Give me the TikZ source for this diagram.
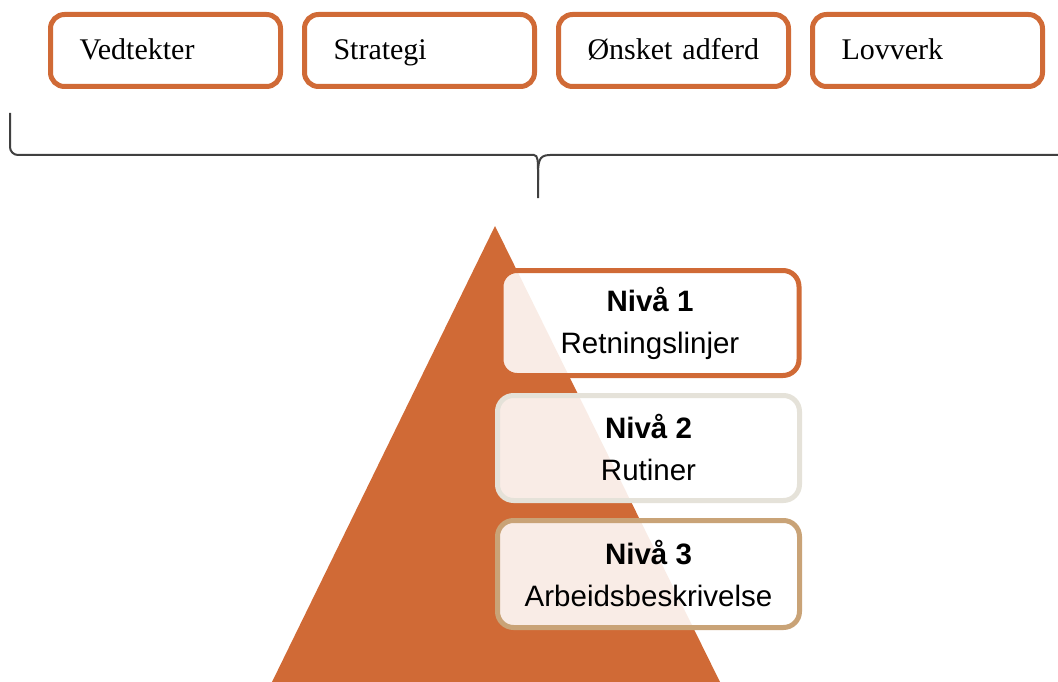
\documentclass[tikz,border=0pt]{standalone}
\usepackage{fontspec}
\setmainfont{Liberation Serif}
\newfontfamily\arialfont{Liberation Sans}
\usetikzlibrary{positioning}
\definecolor{rust}{HTML}{D06A36}
\definecolor{stone}{HTML}{E5E2D9}
\definecolor{sand}{HTML}{C9A377}
\definecolor{brace}{HTML}{404040}
\tikzset{
  topbox/.style={draw=rust, line width=5pt, rounded corners=14pt, fill=white,
    minimum width=230pt, minimum height=72pt, text width=172pt, align=left,
    text height=24pt, text depth=5pt,
    font=\fontsize{30}{36}\selectfont},
  nivabox/.style={line width=5pt, rounded corners=16pt, fill=white, fill opacity=0.88,
    text opacity=1, minimum width=298pt, minimum height=105pt, align=center,
    font=\arialfont\fontsize{29.5}{42}\selectfont},
}
\begin{document}
\begin{tikzpicture}[x=1pt,y=-1pt]
\useasboundingbox (0,0) rectangle (1058,682);
% top row
\node[topbox] (vedtekter) at (165.5,50.5) {Vedtekter};
\node[topbox, right=19pt of vedtekter] (strategi) {Strategi};
\node[topbox, right=19pt of strategi] (adferd) {Ønsket adferd};
\node[topbox, right=19pt of adferd] (lovverk) {Lovverk};
% brace
\draw[brace, line width=2pt, rounded corners=8pt] (10,113) |- (526,155)
  .. controls (538,155) and (538,162) .. (538,180) -- (538,198);
\draw[brace, line width=2pt] (1058,155) -- (550,155)
  .. controls (538,155) and (538,162) .. (538,180);
% pyramid
\fill[rust] (495,226) -- (720,682) -- (272,682) -- cycle;
% levels
\node[nivabox, draw=rust] (niva1) at (650,323) {\textbf{Nivå 1}\\Retningslinjer};
\node[nivabox, draw=stone, minimum width=302pt, below=15pt of niva1.south, anchor=north, xshift=-1.5pt] (niva2) {\textbf{Nivå 2}\\Rutiner};
\node[nivabox, draw=sand, minimum width=302pt, minimum height=107pt, below=15pt of niva2] (niva3) {\textbf{Nivå 3}\\Arbeidsbeskrivelse};
\end{tikzpicture}
\end{document}
